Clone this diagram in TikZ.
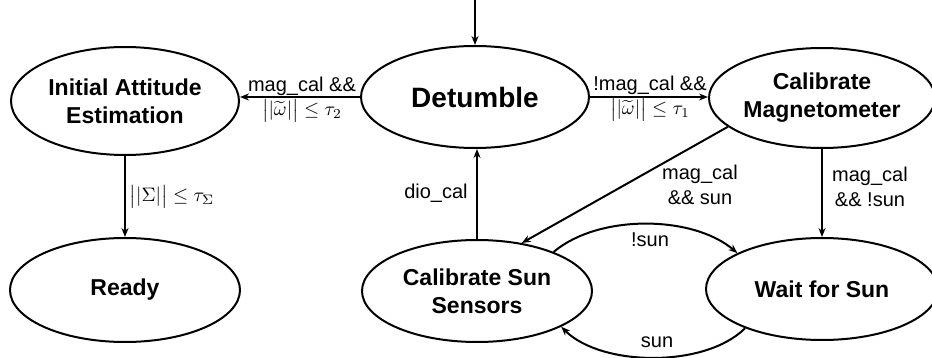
\documentclass[tikz,border=0pt]{standalone}
\usepackage{amsmath}
\usepackage{graphicx}
\usepackage{fontspec}
\setmainfont{Liberation Sans}
\usetikzlibrary{shapes.geometric,arrows.meta}
\newcommand{\bigmath}[1]{\scalebox{1.95}{$#1$}}
\begin{document}
\begin{tikzpicture}[x=1pt,y=-1pt,
  state/.style={draw,ellipse,line width=2pt,inner sep=0pt,align=center,
    font=\fontsize{23}{28}\selectfont\bfseries},
  lab/.style={align=center,inner sep=0pt,font=\fontsize{20}{25}\selectfont},
  mlab/.style={align=center,inner sep=0pt,font=\fontsize{10}{12}\selectfont},
  arr/.style={line width=2pt,-{Stealth[length=9pt,width=7pt]}}]
\useasboundingbox (0,0) rectangle (932,358);
\node[state,minimum width=228pt,minimum height=108pt] (init) at (125,101) {Initial Attitude\\Estimation};
\node[state,minimum width=228pt,minimum height=102pt,font=\fontsize{28}{32}\selectfont\bfseries] (det) at (475,97) {Detumble};
\node[state,minimum width=226pt,minimum height=100pt] (mag) at (822,98) {Calibrate\\Magnetometer};
\node[state,minimum width=230pt,minimum height=104pt] (ready) at (125,290) {Ready};
\node[state,minimum width=230pt,minimum height=102pt] (css) at (477,291) {Calibrate Sun\\Sensors};
\node[state,minimum width=232pt,minimum height=102pt] (wait) at (822,289) {Wait for Sun};
\coordinate (start) at (475,0);
\draw[arr] (start) -- (det.north);
\draw[arr] (det.west) -- (det.west -| init.east);
\draw[arr] (det.east) -- (det.east -| mag.west);
\draw[arr] (init.south) -- (ready.north);
\draw[arr] (mag.south) -- (wait.north);
\draw[arr] (css.north) -- (css.north |- det.south);
\draw[arr] (mag.197) -- (css.47);
\draw[arr] (css.27) .. controls +(45,-38) and +(-45,-38) .. (wait.157);
\draw[arr] (wait.207) .. controls +(-40,40) and +(40,40) .. (css.337);
\node[lab,anchor=base] (l1a) at (302,92) {mag\_cal \&\&};
\node[mlab] (l1b) at (302,111) {\bigmath{\big\lvert\lvert\widetilde{\omega}\rvert\big\rvert \le \tau_2}};
\node[lab,anchor=base] (l2a) at (650,91) {!mag\_cal \&\&};
\node[mlab] (l2b) at (650,110) {\bigmath{\big\lvert\lvert\widetilde{\omega}\rvert\big\rvert \le \tau_1}};
\node[mlab] (l3) at (172,197) {\bigmath{\big\lvert\lvert\Sigma\rvert\big\rvert \le \tau_\Sigma}};
\node[lab] (l4) at (436,193) {dio\_cal};
\node[lab] (l5) at (700,185) {mag\_cal\\\&\& sun};
\node[lab] (l6) at (870,187) {mag\_cal\\\&\& !sun};
\node[lab] (l7) at (650,240) {!sun};
\node[lab] (l8) at (657,342) {sun};
\end{tikzpicture}
\end{document}
